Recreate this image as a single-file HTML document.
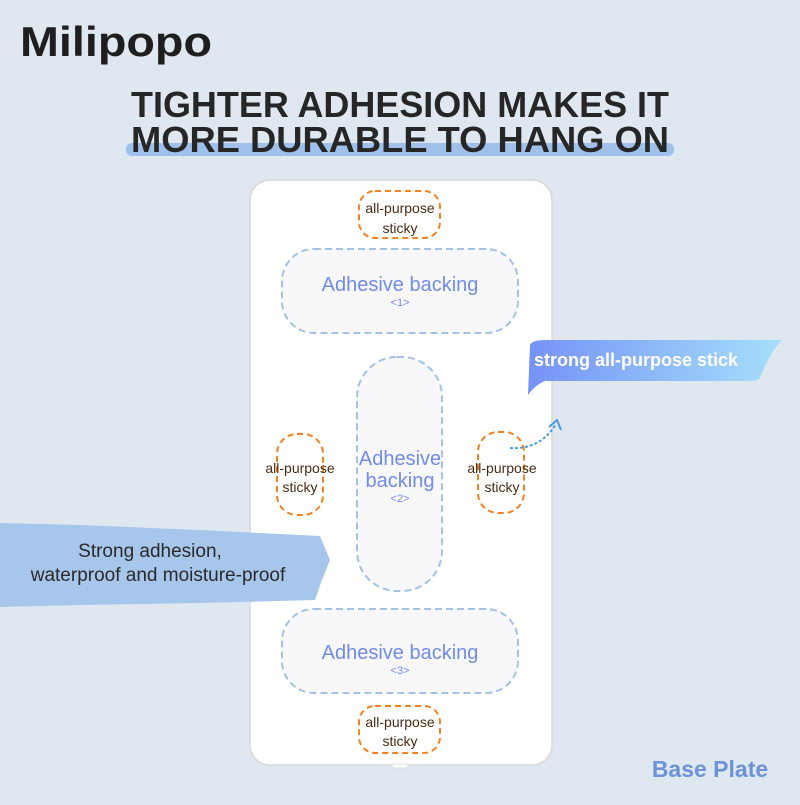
<!DOCTYPE html>
<html><head><meta charset="utf-8"><style>
body{margin:0;width:800px;height:800px;background:#dfe7f1;overflow:hidden;font-family:"Liberation Sans",sans-serif}
</style></head><body>
<svg width="800" height="800" viewBox="0 0 800 800" xmlns="http://www.w3.org/2000/svg" font-family="Liberation Sans, sans-serif">
<defs>
<linearGradient id="g" x1="0" x2="1" y1="0" y2="0"><stop offset="0" stop-color="#7592f6"/><stop offset="1" stop-color="#a6e0fb"/></linearGradient>
</defs>
<rect width="800" height="800" fill="#dfe7f1"/>
<text x="20" y="56" font-size="42" font-weight="bold" fill="#1e1e1e" textLength="192" lengthAdjust="spacingAndGlyphs">Milipopo</text>
<rect x="126" y="143" width="548" height="13" rx="6" fill="#9fc0ea"/>
<text x="400" y="117" text-anchor="middle" font-size="36" font-weight="bold" fill="#262626" textLength="538" lengthAdjust="spacingAndGlyphs">TIGHTER ADHESION MAKES IT</text>
<text x="400" y="152" text-anchor="middle" font-size="36" font-weight="bold" fill="#262626" textLength="538" lengthAdjust="spacingAndGlyphs">MORE DURABLE TO HANG ON</text>
<rect x="250" y="180" width="302" height="585" rx="20" fill="#fff" stroke="#d8d8d8" stroke-width="1.5"/>
<g fill="#f8f8fa" stroke="#a4c2e8" stroke-width="2" stroke-dasharray="7 4">
<rect x="282" y="249" width="236" height="84" rx="32"/>
<rect x="357" y="357" width="85" height="234" rx="40"/>
<rect x="282" y="609" width="236" height="84" rx="32"/>
</g>
<g fill="none" stroke="#f5821f" stroke-width="2" stroke-dasharray="6 4">
<rect x="359" y="191" width="81" height="47" rx="16"/>
<rect x="277" y="434" width="46" height="81" rx="20"/>
<rect x="478" y="432" width="46" height="81" rx="20"/>
<rect x="359" y="706" width="81" height="47" rx="16"/>
</g>
<g fill="#6f8bf0" text-anchor="middle">
<text x="400" y="291" font-size="20">Adhesive backing</text>
<text x="400" y="306" font-size="11">&lt;1&gt;</text>
<text x="400" y="465" font-size="20">Adhesive</text>
<text x="400" y="487" font-size="20">backing</text>
<text x="400" y="502" font-size="11">&lt;2&gt;</text>
<text x="400" y="659" font-size="20">Adhesive backing</text>
<text x="400" y="674" font-size="11">&lt;3&gt;</text>
</g>
<g fill="#4a2c14" text-anchor="middle" font-size="14">
<text x="400" y="213">all-purpose</text><text x="400" y="233">sticky</text>
<text x="300" y="473">all-purpose</text><text x="300" y="492">sticky</text>
<text x="502" y="473">all-purpose</text><text x="502" y="492">sticky</text>
<text x="400" y="727">all-purpose</text><text x="400" y="746">sticky</text>
</g>
<path d="M530 345 Q532 340 545 340 L782 340 Q770 352 760 378 Q757 381 745 381 L545 381 Q535 385 528 395 Z" fill="url(#g)"/>
<text x="534" y="366" font-size="18" font-weight="bold" fill="#fff">strong all-purpose stick</text>
<path d="M510 448 Q540 450 556 424" fill="none" stroke="#4a9ae8" stroke-width="2" stroke-dasharray="3 2"/>
<path d="M549 427 L557 420 L561 430" fill="none" stroke="#4a9ae8" stroke-width="2"/>
<path d="M0 523 L80 525 L200 530 L320 536 L330 560 L322 580 L315 600 L200 603 L80 605 L0 607 Z" fill="#a7c6ec"/>
<text x="150" y="557" text-anchor="middle" font-size="19" fill="#2a2a2a">Strong adhesion,</text>
<text x="158" y="581" text-anchor="middle" font-size="19" fill="#2a2a2a">waterproof and moisture-proof</text>
<rect x="392" y="764" width="16" height="4" fill="#fff" stroke="#ddd"/>
<text x="710" y="777" text-anchor="middle" font-size="23" font-weight="bold" fill="#6b93d6">Base Plate</text>
</svg>
</body></html>
